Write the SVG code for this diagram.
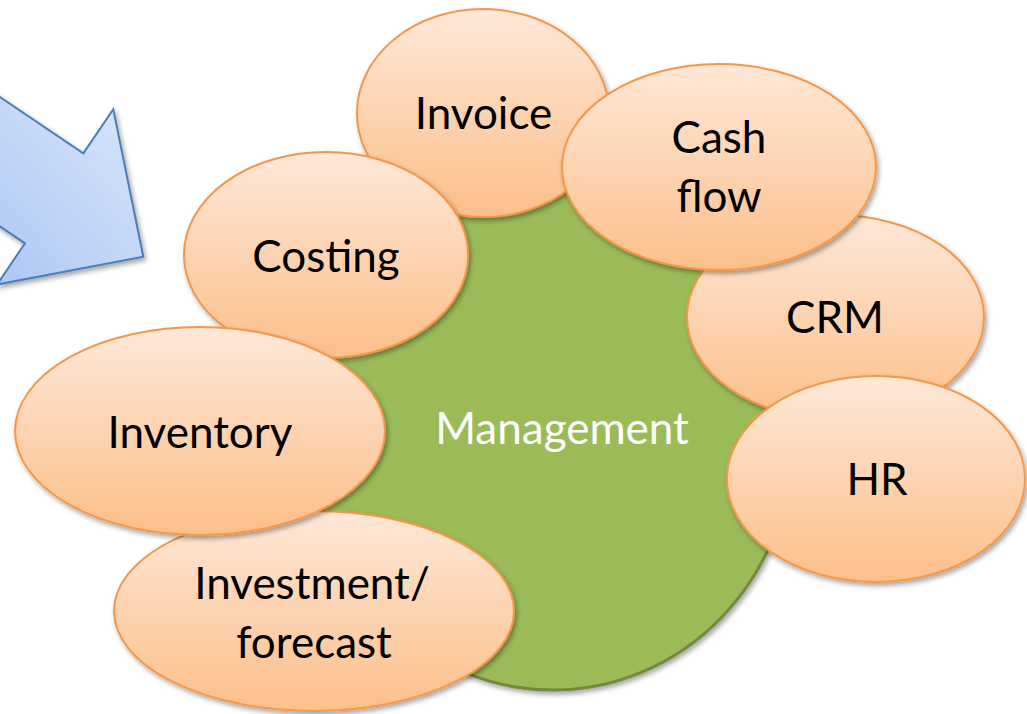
<svg xmlns="http://www.w3.org/2000/svg" width="1027" height="714" viewBox="0 0 1027 714">
<style>
.node ellipse { fill: url(#og); stroke: #f79646; stroke-width: 2; filter: url(#sh); }
.lbl { font-family: Lato, "Open Sans", "Liberation Sans", sans-serif; font-size: 44px; fill: #000; text-anchor: middle; }
.wl { fill: #ffffff; }
</style>
<defs>
<linearGradient id="og" x1="0" y1="0" x2="0" y2="1">
<stop offset="0" stop-color="#fee8d8"/>
<stop offset="1" stop-color="#fcbf8a"/>
</linearGradient>
<linearGradient id="bg" x1="1" y1="0" x2="0" y2="1">
<stop offset="0" stop-color="#dfe9fb"/>
<stop offset="1" stop-color="#a5c2f3"/>
</linearGradient>
<filter id="sh" x="-10%" y="-10%" width="125%" height="125%">
<feDropShadow dx="2" dy="3" stdDeviation="2.5" flood-color="#000" flood-opacity="0.35"/>
</filter>
</defs>
<g id="arrow">
<polygon points="-60,56.5 83.3,153.3 113.3,109.3 143.3,256.7 -3,284.6 25,243.3 -60,185.9" fill="url(#bg)" stroke="#4a7ebb" stroke-width="2" stroke-linejoin="miter" filter="url(#sh)"/>
</g>
<g id="management">
<ellipse cx="553" cy="438" rx="240" ry="252" fill="#9bbb59" stroke="#71893f" stroke-width="3" filter="url(#sh)"/>
<text class="lbl wl" x="562" y="444">Management</text>
</g>
<g id="invoice" class="node">
<ellipse cx="483" cy="113" rx="126" ry="104"/>
<text class="lbl" x="483.5" y="129">Invoice</text>
</g>
<g id="costing" class="node">
<ellipse cx="326" cy="255" rx="142" ry="103"/>
<text class="lbl" x="326" y="272">Costing</text>
</g>
<g id="investment" class="node">
<ellipse cx="314" cy="611" rx="200" ry="100"/>
<text class="lbl" x="312" y="599">Investment/</text>
<text class="lbl" x="314" y="658">forecast</text>
</g>
<g id="inventory" class="node">
<ellipse cx="200" cy="431" rx="185" ry="104"/>
<text class="lbl" x="200" y="448">Inventory</text>
</g>
<g id="crm" class="node">
<ellipse cx="835.5" cy="317" rx="148.5" ry="102"/>
<text class="lbl" x="835" y="333">CRM</text>
</g>
<g id="hr" class="node">
<ellipse cx="876" cy="479" rx="149" ry="103"/>
<text class="lbl" x="877" y="495">HR</text>
</g>
<g id="cashflow" class="node">
<ellipse cx="719" cy="167" rx="157" ry="103"/>
<text class="lbl" x="719" y="153">Cash</text>
<text class="lbl" x="719" y="212">flow</text>
</g>
<g id="connectors"/>
</svg>
